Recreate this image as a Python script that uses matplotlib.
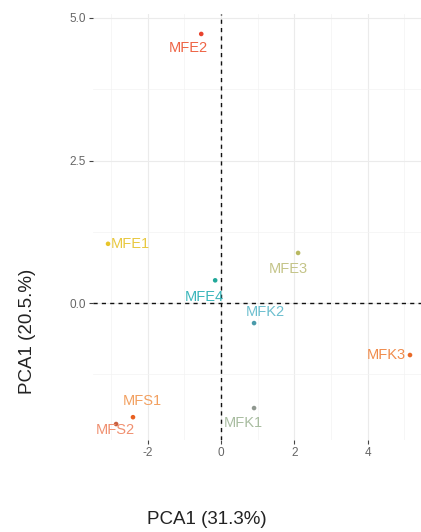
import matplotlib
matplotlib.use("Agg")
import matplotlib.pyplot as plt
from matplotlib.ticker import MultipleLocator

samples = ["MFE1", "MFE2", "MFE3", "MFE4", "MFK1", "MFK2", "MFK3", "MFS1", "MFS2"]
pc1 = [-3.08, -0.54, 2.10, -0.16, 0.90, 0.90, 5.15, -2.40, -2.86]
pc2 = [1.04, 4.72, 0.88, 0.40, -1.84, -0.35, -0.91, -2.00, -2.12]
point_colors = ["#E8C52A", "#E8432E", "#B8B860", "#22A89A", "#909890",
                "#4A9AAA", "#E86A28", "#E86020", "#C86040"]
label_colors = ["#E8C840", "#EE6445", "#C4C488", "#3BB6BB", "#A8BCA0",
                "#6CBFCF", "#F08C4C", "#F2A060", "#F09070"]
# label offsets in pixels (dx, dy) and alignment
offsets = [(3, 0, "left"), (-13, -14, "center"), (-10, -16, "center"),
           (-11, -17, "center"), (-11, -15, "center"), (11, 11, "center"),
           (-4, 0, "right"), (9, 16, "center"), (-1, -6, "center")]
xticks = [-2, 0, 2, 4]
yticks = [0.0, 2.5, 5.0]
xlabel = "PCA1 (31.3%)"
ylabel = "PCA1 (20.5.%)"

sans = ["Liberation Sans", "DejaVu Sans"]

fig = plt.figure(figsize=(4.21, 5.32), dpi=100)
ax = fig.add_axes([93/421, 92/532, 328/421, 426/532])
ax.set_xlim(-3.49, 5.45)
ax.set_ylim(-2.40, 5.07)
ax.set_facecolor("white")
for s in ax.spines.values():
    s.set_visible(False)

ax.xaxis.set_minor_locator(MultipleLocator(1))
ax.yaxis.set_minor_locator(MultipleLocator(1.25))
ax.set_xticks(xticks)
ax.set_yticks(yticks)
ax.set_xticklabels([f"{t:g}" for t in xticks], fontfamily=sans, fontsize=8.5, color="#666666")
ax.set_yticklabels([f"{t:.1f}" for t in yticks], fontfamily=sans, fontsize=8.5, color="#666666")
ax.grid(which="major", color="#EBEBEB", linewidth=0.8)
ax.grid(which="minor", color="#F3F3F3", linewidth=0.5)
ax.set_axisbelow(True)
ax.tick_params(which="major", length=3, width=0.8, color="#444444", pad=2)
ax.tick_params(which="minor", length=0)

ax.axhline(0, color="#111111", linestyle=(0, (3, 3)), linewidth=1.0)
ax.axvline(0, color="#111111", linestyle=(0, (3, 3)), linewidth=1.0)

ax.scatter(pc1, pc2, s=11, c=point_colors, zorder=3, linewidths=0)
for x, y, name, col, (dx, dy, ha) in zip(pc1, pc2, samples, label_colors, offsets):
    ax.annotate(name, (x, y), xytext=(dx, dy), textcoords="offset pixels",
                ha=ha, va="center", fontsize=10.5, color=col, fontfamily=sans, zorder=4)

fig.text(207/421, 1 - 520/532, xlabel, ha="center", va="center", fontsize=13.5,
         color="#222222", fontfamily=sans)
fig.text(28/421, 1 - 331/532, ylabel, ha="center", va="center", rotation=90,
         fontsize=13.5, color="#222222", fontfamily=sans)

fig.savefig("out.png", dpi=100, facecolor="white")
